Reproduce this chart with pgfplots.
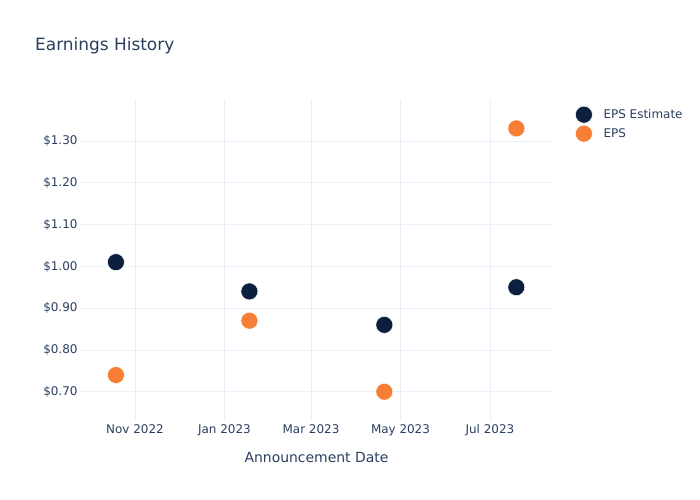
\documentclass[border=0pt]{standalone}
\usepackage{pgfplots}
\pgfplotsset{compat=1.18}
\usepackage{fontspec}
\setmainfont{DejaVu Sans}
\definecolor{txt}{HTML}{2A3F5F}
\definecolor{gridc}{HTML}{EBF0F8}
\definecolor{navy}{HTML}{0D1F3E}
\definecolor{orng}{HTML}{F77F35}
\begin{document}
\begin{tikzpicture}[x=1bp,y=1bp]
\path[fill=white] (0,0) rectangle (700,500);
\node[anchor=base west, font=\fontsize{17}{20}\selectfont, text=txt, inner sep=0] at (35,449) {Earnings History};
\begin{axis}[
  at={(80bp,79bp)}, anchor=south west,
  scale only axis, width=473bp, height=321bp,
  xmin=-37.5, xmax=285,
  ymin=0.63, ymax=1.398,
  axis line style={draw=none},
  tick style={draw=none},
  grid=major, major grid style={draw=gridc, line width=0.8pt},
  xtick={0,61,120,181,242},
  xticklabels={Nov 2022,Jan 2023,Mar 2023,May 2023,Jul 2023},
  ytick={0.7,0.8,0.9,1.0,1.1,1.2,1.3},
  yticklabels={\$0.70,\$0.80,\$0.90,\$1.00,\$1.10,\$1.20,\$1.30},
  ticklabel style={font=\fontsize{12}{14}\selectfont, text=txt},
  yticklabel style={xshift=1bp},
  xlabel={Announcement Date},
  xlabel style={font=\fontsize{14}{16}\selectfont, text=txt, yshift=-9bp},
  legend style={at={(1.0,1.0)}, anchor=north west, xshift=19bp, yshift=-4bp, draw=none, fill=none,
    font=\fontsize{12}{14}\selectfont, text=txt, row sep=2pt},
  legend cell align=left,
  legend image code/.code={\draw[#1] plot coordinates {(0cm,0cm)}; \path (-8.5bp,0) (17.5bp,0);},
]
\addplot[only marks, mark=*, mark size=8.5bp, mark options={draw=white, line width=0.5pt, fill=navy}]
  coordinates {(-13,1.01) (78,0.94) (170,0.86) (260,0.95)};
\addlegendentry{EPS Estimate}
\addplot[only marks, mark=*, mark size=8.5bp, mark options={draw=white, line width=0.5pt, fill=orng}]
  coordinates {(-13,0.74) (78,0.87) (170,0.70) (260,1.33)};
\addlegendentry{EPS}
\end{axis}
\end{tikzpicture}
\end{document}
